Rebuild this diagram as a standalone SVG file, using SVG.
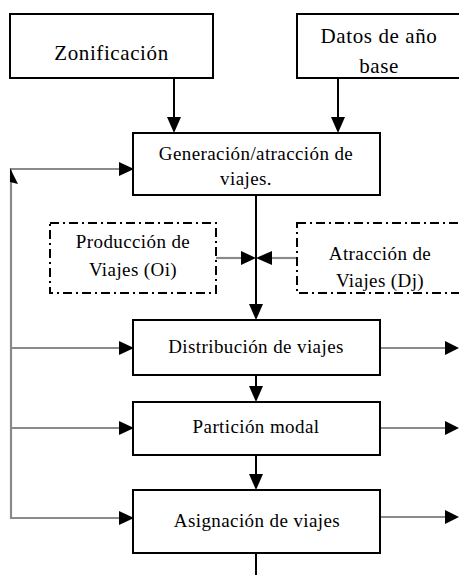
<svg xmlns="http://www.w3.org/2000/svg" width="459" height="575" viewBox="0 0 459 575">
<style>
.box{fill:#fff;stroke:#000;stroke-width:2}
.dd{fill:none;stroke:#000;stroke-width:2;stroke-dasharray:9 4 2 4}
.t{font-family:"Liberation Serif","Times New Roman",serif;fill:#000;text-anchor:middle}
.big{font-size:21px;letter-spacing:0.6px}
.mid{font-size:19px;letter-spacing:0.4px}
.blk{stroke:#000;stroke-width:2;fill:none}
.gry{stroke:#8a8a8a;stroke-width:2.2;fill:none}
.ah{fill:#000}
</style>
<rect width="459" height="575" fill="#fff"/>
<g id="connectors">
  <line class="blk" x1="174" y1="78" x2="174" y2="120"/>
  <polygon class="ah" points="167,117 181,117 174,133"/>
  <line class="blk" x1="338" y1="78" x2="338" y2="120"/>
  <polygon class="ah" points="331,117 345,117 338,133"/>
  <line class="blk" x1="256" y1="195" x2="256" y2="307"/>
  <polygon class="ah" points="249,304 263,304 256,320"/>
  <line class="blk" x1="256" y1="375" x2="256" y2="389"/>
  <polygon class="ah" points="249,386 263,386 256,402"/>
  <line class="blk" x1="256" y1="455" x2="256" y2="477"/>
  <polygon class="ah" points="249,474 263,474 256,490"/>
  <line class="blk" x1="256" y1="553" x2="256" y2="575"/>
  <polyline class="gry" points="120,169 11,169 11,518 120,518"/>
  <polygon class="ah" points="119,162 119,176 134,169"/>
  <polygon class="ah" points="10,168 18,184 10,182"/>
  <line class="gry" x1="11" y1="348" x2="120" y2="348"/>
  <polygon class="ah" points="119,341 119,355 134,348"/>
  <line class="gry" x1="11" y1="428" x2="120" y2="428"/>
  <polygon class="ah" points="119,421 119,435 134,428"/>
  <polygon class="ah" points="119,511 119,525 134,518"/>
  <line class="gry" x1="380" y1="348" x2="446" y2="348"/>
  <polygon class="ah" points="445,341 445,355 459,348"/>
  <line class="gry" x1="380" y1="428" x2="446" y2="428"/>
  <polygon class="ah" points="445,421 445,435 459,428"/>
  <line class="gry" x1="380" y1="517" x2="446" y2="517"/>
  <polygon class="ah" points="445,510 445,524 459,517"/>
  <line class="gry" x1="216" y1="258" x2="243" y2="258"/>
  <polygon class="ah" points="241,251 241,265 256,258"/>
  <line class="gry" x1="297" y1="258" x2="270" y2="258"/>
  <polygon class="ah" points="272,251 272,265 256,258"/>
</g>
<g id="zonificacion">
  <rect class="box" x="10" y="14" width="203" height="64"/>
  <text class="t big" x="111.5" y="60">Zonificación</text>
</g>
<g id="datos">
  <rect class="box" x="297" y="14" width="170" height="64"/>
  <text class="t big" x="379" y="43">Datos de año</text>
  <text class="t big" x="379" y="73">base</text>
</g>
<g id="generacion">
  <rect class="box" x="133" y="133" width="247" height="62"/>
  <text class="t mid" x="256" y="160">Generación/atracción de</text>
  <text class="t mid" x="246" y="185">viajes.</text>
</g>
<g id="produccion">
  <rect class="dd" x="50" y="223" width="166" height="70"/>
  <text class="t mid" x="133" y="248">Producción de</text>
  <text class="t mid" x="133" y="276">Viajes (Oi)</text>
</g>
<g id="atraccion">
  <rect class="dd" x="297" y="223" width="170" height="70"/>
  <text class="t mid" x="380" y="260">Atracción de</text>
  <text class="t mid" x="380" y="287">Viajes (Dj)</text>
</g>
<g id="distribucion">
  <rect class="box" x="133" y="320" width="247" height="55"/>
  <text class="t mid" x="256" y="353">Distribución de viajes</text>
</g>
<g id="particion">
  <rect class="box" x="133" y="402" width="247" height="53"/>
  <text class="t mid" x="256" y="433">Partición modal</text>
</g>
<g id="asignacion">
  <rect class="box" x="133" y="490" width="247" height="63"/>
  <text class="t mid" x="257" y="527">Asignación de viajes</text>
</g>
</svg>
